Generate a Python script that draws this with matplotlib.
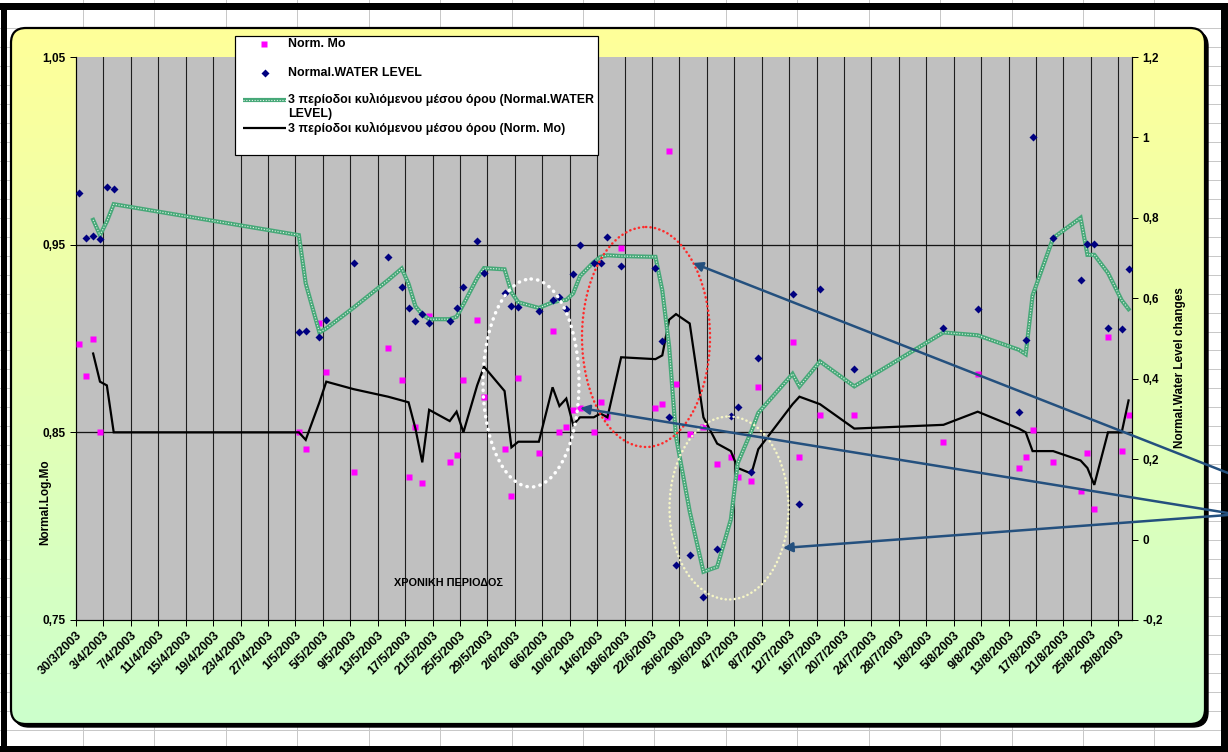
import numpy as np
import pandas as pd
import matplotlib
matplotlib.use("Agg")
import matplotlib.pyplot as plt
from matplotlib.patches import FancyBboxPatch, Ellipse, FancyArrowPatch, Rectangle

plt.rcParams['font.family'] = ['Liberation Sans', 'DejaVu Sans']
plt.rcParams['font.weight'] = 'bold'

# ---------------- data ----------------
sample_dates = [
    "30/3/2003", "31/3/2003", "1/4/2003", "2/4/2003", "3/4/2003", "4/4/2003",
    "1/5/2003", "2/5/2003", "4/5/2003", "5/5/2003", "9/5/2003", "14/5/2003", "16/5/2003", "17/5/2003",
    "18/5/2003", "19/5/2003", "20/5/2003", "23/5/2003", "24/5/2003", "25/5/2003", "27/5/2003", "28/5/2003",
    "31/5/2003", "1/6/2003", "2/6/2003", "5/6/2003", "7/6/2003", "8/6/2003", "9/6/2003", "10/6/2003",
    "11/6/2003", "13/6/2003", "14/6/2003", "15/6/2003", "17/6/2003", "22/6/2003", "23/6/2003", "24/6/2003",
    "25/6/2003", "27/6/2003", "29/6/2003", "1/7/2003", "3/7/2003", "4/7/2003", "6/7/2003", "7/7/2003",
    "12/7/2003", "13/7/2003", "16/7/2003", "21/7/2003", "3/8/2003", "8/8/2003", "14/8/2003", "15/8/2003",
    "16/8/2003", "19/8/2003", "23/8/2003", "24/8/2003", "25/8/2003", "27/8/2003", "29/8/2003", "30/8/2003",
]

norm_mo = [
    0.897, 0.880, 0.900, 0.850, np.nan, np.nan,
    0.850, 0.841, 0.908, 0.882, 0.829, 0.895, 0.878, 0.826,
    0.853, 0.823, 0.912, 0.834, 0.838, 0.878, 0.910, 0.869,
    0.841, 0.816, 0.879, 0.839, 0.904, 0.850, 0.853, 0.862,
    0.863, 0.850, 0.866, 0.858, 0.948, 0.863, 0.865, 1.000,
    0.876, 0.849, 0.853, 0.833, 0.837, 0.826, 0.824, 0.874,
    0.898, 0.837, 0.859, 0.859, 0.845, 0.881, 0.831, 0.837,
    0.851, 0.834, 0.819, 0.839, 0.809, 0.901, 0.840, 0.859,
]

water_level = [
    0.862, 0.751, 0.756, 0.747, 0.877, 0.872,
    0.515, 0.518, 0.504, 0.545, 0.687, 0.703, 0.627, 0.577,
    0.544, 0.561, 0.539, 0.544, 0.577, 0.627, 0.743, 0.662,
    0.612, 0.581, 0.578, 0.569, 0.596, 0.602, 0.573, 0.660,
    0.733, 0.687, 0.687, 0.752, 0.681, 0.676, 0.494, 0.306,
    -0.062, -0.038, -0.142, -0.024, 0.308, 0.330, 0.167, 0.451,
    0.610, 0.089, 0.623, 0.424, 0.525, 0.573, 0.318, 0.496,
    1.000, 0.749, 0.646, 0.734, 0.734, 0.525, 0.524, 0.673,
]

# 3-period moving averages (start at the third sample date)
water_level_ma3 = [
    0.795, 0.757, 0.791, 0.834,
    0.757, 0.637, 0.515, 0.525, 0.577, 0.645, 0.674, 0.636,
    0.580, 0.560, 0.548, 0.548, 0.554, 0.585, 0.650, 0.675,
    0.672, 0.615, 0.590, 0.576, 0.590, 0.594, 0.596, 0.612,
    0.655, 0.690, 0.703, 0.707, 0.705, 0.703, 0.620, 0.480,
    0.256, 0.070, -0.080, -0.068, 0.050, 0.190, 0.270, 0.315,
    0.412, 0.381, 0.443, 0.381, 0.515, 0.508, 0.472, 0.461,
    0.607, 0.750, 0.800, 0.708, 0.708, 0.663, 0.595, 0.573,
]

norm_mo_ma3 = [
    0.892, 0.877, 0.875, 0.850,
    0.850, 0.846, 0.866, 0.877, 0.873, 0.869, 0.867, 0.866,
    0.852, 0.834, 0.862, 0.856, 0.861, 0.850, 0.875, 0.885,
    0.872, 0.842, 0.845, 0.845, 0.874, 0.864, 0.868, 0.854,
    0.858, 0.858, 0.860, 0.858, 0.890, 0.889, 0.891, 0.910,
    0.913, 0.908, 0.858, 0.844, 0.840, 0.831, 0.828, 0.841,
    0.865, 0.869, 0.865, 0.852, 0.854, 0.861, 0.852, 0.850,
    0.840, 0.840, 0.835, 0.831, 0.822, 0.850, 0.850, 0.867,
]

left_ticks = [0.75, 0.85, 0.95, 1.05]
left_tick_labels = ["0,75", "0,85", "0,95", "1,05"]
right_ticks = [-0.2, 0.0, 0.2, 0.4, 0.6, 0.8, 1.0, 1.2]
right_tick_labels = ["-0,2", "0", "0,2", "0,4", "0,6", "0,8", "1", "1,2"]

axis_start = "30/3/2003"
axis_end = "31/8/2003"

legend_labels = [
    "Norm. Mo",
    "Normal.WATER LEVEL",
    "3 περίοδοι κυλιόμενου μέσου όρου (Normal.WATER\nLEVEL)",
    "3 περίοδοι κυλιόμενου μέσου όρου (Norm. Mo)",
]

# ---------------- figure ----------------
W, H = 1228, 752
fig = plt.figure(figsize=(W / 100, H / 100), dpi=100)
PX = 72 / 100  # points per pixel

# spreadsheet background, frame and chart area (pixel coordinates)
bg = fig.add_axes([0, 0, 1, 1])
bg.set_zorder(0)
bg.set_xlim(0, W)
bg.set_ylim(H, 0)
bg.axis('off')
bg.add_patch(Rectangle((0, 0), W, H, fc='white', ec='none', zorder=0))
for k in range(16):
    x = 83 + 71.43 * k
    bg.plot([x, x], [0, H], color='#C8C8C8', lw=1 * PX, zorder=1)
for k in range(-1, 39):
    y = 28 + 18.97 * k
    bg.plot([0, W], [y, y], color='#C8C8C8', lw=1 * PX, zorder=1)
# sheet frame
for rect in [(0, 3, W, 7), (0, 746, W, 6), (1, 3, 6, 746), (1221, 3, 7, 746)]:
    bg.add_patch(Rectangle(rect[:2], rect[2], rect[3], fc='black', ec='none', zorder=2))

cx0, cy0, cw, ch = 11, 28, 1194, 696
shadow = FancyBboxPatch((cx0 + 3, cy0 + 3), cw, ch, boxstyle='round,pad=0,rounding_size=15',
                        fc='black', ec='black', lw=1, zorder=3)
bg.add_patch(shadow)
chart_box = FancyBboxPatch((cx0, cy0), cw, ch, boxstyle='round,pad=0,rounding_size=15',
                           fc='none', ec='black', lw=1.6, zorder=5)
bg.add_patch(chart_box)
t = np.linspace(0, 1, 256)[:, None, None]
top_c = np.array([255, 255, 153]) / 255
bot_c = np.array([204, 255, 204]) / 255
grad = top_c * (1 - t) + bot_c * t
im = bg.imshow(grad, extent=[cx0, cx0 + cw, cy0 + ch, cy0], aspect='auto',
               interpolation='bilinear', zorder=4)
im.set_clip_path(chart_box)

# ---------------- plot area ----------------
L, R, T, B = 76, 1132, 57, 620
ax = fig.add_axes([L / W, 1 - B / H, (R - L) / W, (B - T) / H])
ax.set_zorder(2)
ax.set_facecolor('#C0C0C0')

dates = pd.to_datetime(sample_dates, format="%d/%m/%Y")
x_pts = dates + pd.Timedelta(hours=12)   # each day sits in the middle of its band
x_ma = x_pts[2:]
x0 = pd.to_datetime(axis_start, format="%d/%m/%Y")
x1 = pd.to_datetime(axis_end, format="%d/%m/%Y")
tick_dates = pd.date_range(x0, x1, freq='4D')
tick_labels = [f"{d.day}/{d.month}/{d.year}" for d in tick_dates]

ax.set_xlim(x0, x1)
ax.set_ylim(0.75, 1.05)
ax.set_xticks(tick_dates)
ax.set_xticklabels(tick_labels, rotation=45, ha='right', va='top', rotation_mode='anchor',
                   fontsize=9, fontweight='bold')
ax.set_yticks(left_ticks)
ax.set_yticklabels(left_tick_labels, fontsize=8.5, fontweight='bold')
ax.tick_params(axis='x', direction='out', length=6 * PX, width=1 * PX, pad=2, colors='black')
ax.tick_params(axis='y', direction='out', length=6 * PX, width=1 * PX, pad=3, colors='black')
for d in tick_dates[1:]:
    ax.axvline(d, color='#1E1E1E', lw=1.1 * PX, zorder=1)
for yv in left_ticks[1:3]:
    ax.axhline(yv, color='#141414', lw=1.3 * PX, zorder=1)
ax.spines['top'].set_visible(False)
ax.spines['right'].set_visible(False)
ax.spines['left'].set_linewidth(1.2 * PX)
ax.spines['bottom'].set_linewidth(1.2 * PX)

ax.plot(x_pts, norm_mo, linestyle='none', marker='s', ms=5.0, color='#FF00FF', mec='none', zorder=3)
ax.plot(x_ma, norm_mo_ma3, color='black', lw=1.6, zorder=4, solid_joinstyle='miter')

ax2 = ax.twinx()
ax2.set_zorder(3)
ax2.patch.set_visible(False)
ax2.set_ylim(-0.2, 1.2)
ax2.set_yticks(right_ticks)
ax2.set_yticklabels(right_tick_labels, fontsize=8.5, fontweight='bold')
ax2.tick_params(axis='y', direction='out', length=6 * PX, width=1 * PX, pad=3, colors='black')
for s in ['top', 'left', 'bottom']:
    ax2.spines[s].set_visible(False)
ax2.spines['right'].set_linewidth(1.2 * PX)

ma_green = '#46A878'
ax2.plot(x_ma, water_level_ma3, color=ma_green, lw=3.0, zorder=3, solid_joinstyle='miter')
ax2.plot(x_ma, water_level_ma3, color='#E8F5EC', lw=0.8, ls=(0, (1.0, 1.5)), zorder=3.1)
ax2.plot(x_pts, water_level, linestyle='none', marker='D', ms=4.5, color='#000080', mec='none', zorder=4)

# ---------------- overlay: texts, legend, annotations ----------------
ov = fig.add_axes([0, 0, 1, 1])
ov.set_zorder(10)
ov.set_xlim(0, W)
ov.set_ylim(H, 0)
ov.axis('off')
ov.patch.set_visible(False)

ov.text(45, 502, "Normal.Log.Mo", rotation=90, ha='center', va='center', fontsize=8.5, fontweight='bold')
ov.text(1180, 368, "Normal.Water Level changes", rotation=90, ha='center', va='center',
        fontsize=8.5, fontweight='bold')
ov.text(448, 583, "ΧΡΟΝΙΚΗ ΠΕΡΙΟΔΟΣ", ha='center', va='center', fontsize=7.8, fontweight='bold')

# legend box
ov.add_patch(Rectangle((235, 36), 363, 119, fc='white', ec='black', lw=1.2 * PX, zorder=20))
ov.plot([264], [44], marker='s', ms=5.0, color='#FF00FF', mec='none', zorder=21)
ov.plot([265], [73], marker='D', ms=4.5, color='#000080', mec='none', zorder=21)
ov.plot([243, 286], [100, 100], color=ma_green, lw=3.0, zorder=21, solid_capstyle='butt')
ov.plot([243, 286], [100, 100], color='#E8F5EC', lw=0.8, ls=(0, (1.0, 1.5)), zorder=21.1)
ov.plot([243, 286], [128, 128], color='black', lw=1.6, zorder=21, solid_capstyle='butt')
leg_fs = 8.9
ov.text(288, 44, legend_labels[0], va='center', ha='left', fontsize=leg_fs, fontweight='bold', zorder=22)
ov.text(288, 73, legend_labels[1], va='center', ha='left', fontsize=leg_fs, fontweight='bold', zorder=22)
ov.text(288, 93, legend_labels[2], va='top', ha='left', fontsize=leg_fs, fontweight='bold',
        linespacing=1.25, zorder=22)
ov.text(288, 128, legend_labels[3], va='center', ha='left', fontsize=leg_fs, fontweight='bold', zorder=22)

# dotted ellipses
for (cx, cy, ew, eh, col, lw, gap) in [
    (531, 383, 96, 208, 'white', 2.5, 1.8),
    (646, 337, 128, 220, '#FF2A2A', 1.8, 1.7),
    (729, 508, 119, 183, '#F6F6C6', 1.8, 1.7),
]:
    e = Ellipse((cx, cy), ew, eh, fill=False, ec=col, lw=lw, ls=(0, (0.1, gap)), zorder=15)
    e.set_capstyle('round')
    ov.add_patch(e)

# arrows from the right margin
arrow_col = '#24507E'
for (xa, ya, xb, yb) in [(1228, 473, 693, 263), (1228, 513, 580, 408), (1228, 515, 783, 548)]:
    ov.add_patch(FancyArrowPatch((xa, ya), (xb, yb), arrowstyle='-|>', mutation_scale=14,
                                 color=arrow_col, lw=1.8, shrinkA=0, shrinkB=0, zorder=16))

fig.savefig("out.png", dpi=100)
